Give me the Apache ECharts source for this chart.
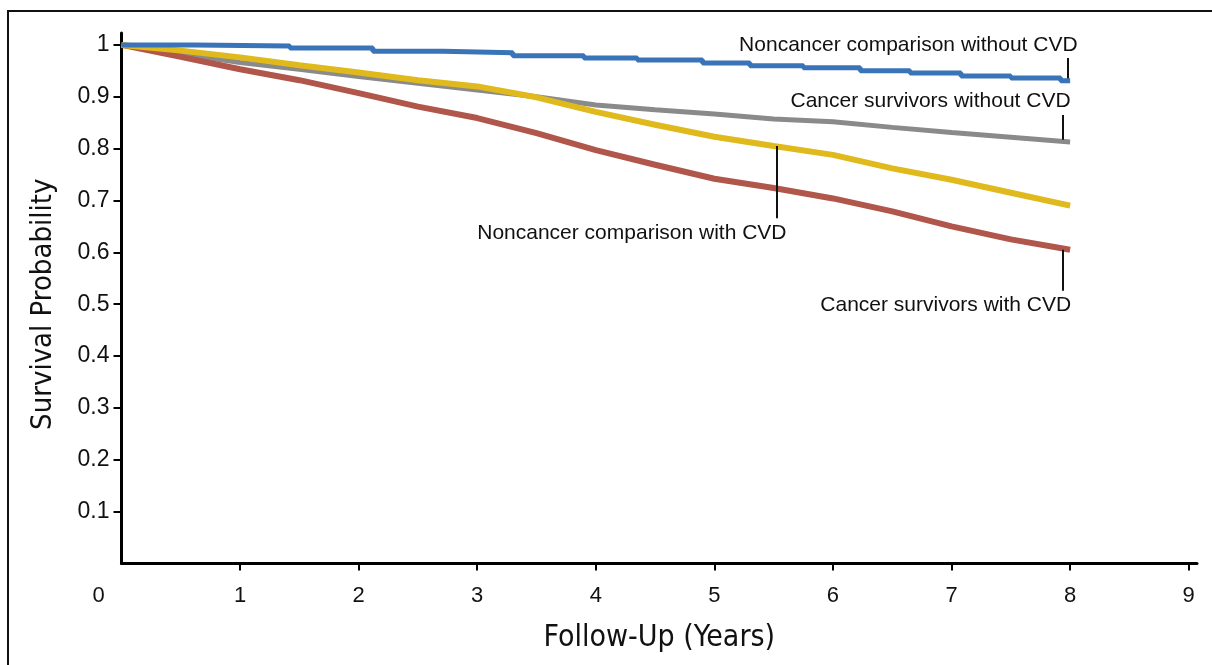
<!DOCTYPE html>
<html><head><meta charset="utf-8">
<script src="https://cdn.jsdelivr.net/npm/echarts@6/dist/echarts.min.js"></script>
<style>html,body{margin:0;padding:0;background:#fff}#c{width:1212px;height:665px}</style>
</head><body><div id="c"></div>
<script>
// ---- axis ticks / labels ----
const xTickValues = [1, 2, 3, 4, 5, 6, 7, 8, 9];
const xLabelValues = [0, 1, 2, 3, 4, 5, 6, 7, 8, 9];
const yTickValues = [0.1, 0.2, 0.3, 0.4, 0.5, 0.6, 0.7, 0.8, 0.9, 1];

// ---- series (Kaplan-Meier survival, years vs probability) ----
const blueName = 'Noncancer comparison without CVD';
const blueT = [0, 0.62, 1.42, 2.12, 2.71, 3.3, 3.9, 4.35, 4.9, 5.3, 5.75, 6.23, 6.65, 7.08, 7.5, 7.92, 8];
const blueS = [1.0, 0.998, 0.994, 0.988, 0.985, 0.979, 0.975, 0.971, 0.965, 0.960, 0.956, 0.950, 0.946, 0.940, 0.936, 0.931, 0.931];

const grayName = 'Cancer survivors without CVD';
const grayT = [0, 0.5, 1, 1.5, 2, 2.5, 3, 3.5, 4, 4.5, 5, 5.5, 6, 6.5, 7, 7.5, 8];
const grayS = [1.0, 0.983, 0.966, 0.953, 0.939, 0.926, 0.913, 0.900, 0.884, 0.875, 0.867, 0.857, 0.852, 0.841, 0.831, 0.822, 0.813];

const yellowName = 'Noncancer comparison with CVD';
const yellowT = [0, 0.5, 1, 1.5, 2, 2.5, 3, 3.5, 4, 4.5, 5, 5.5, 6, 6.5, 7, 7.5, 8];
const yellowS = [1.0, 0.989, 0.976, 0.961, 0.947, 0.932, 0.920, 0.899, 0.871, 0.846, 0.823, 0.805, 0.788, 0.762, 0.740, 0.715, 0.690];

const redName = 'Cancer survivors with CVD';
const redT = [0, 0.5, 1, 1.5, 2, 2.5, 3, 3.5, 4, 4.5, 5, 5.5, 6, 6.5, 7, 7.5, 8];
const redS = [1.0, 0.977, 0.953, 0.932, 0.907, 0.881, 0.859, 0.830, 0.797, 0.769, 0.742, 0.724, 0.704, 0.679, 0.650, 0.625, 0.605];

// ---- annotation labels and pointer segments (data coordinates) ----
const annText = [blueName, grayName, yellowName, redName];
const annX = [8.063, 8.004, 4.304, 8.009];
const annY = [1.0, 0.891, 0.636, 0.4986];
const annAlign = ['right', 'right', 'center', 'right'];
const pointerX = [7.98, 7.94, 5.53, 7.94];
const pointerY1 = [0.975, 0.865, 0.805, 0.605];
const pointerY2 = [0.932, 0.817, 0.666, 0.526];

const colors = { blue: '#3a74b8', gray: '#8a8a8a', yellow: '#e0b91c', red: '#b0564a' };
const textColor = '#111';
const tickFont = 'Liberation Sans, Arial, sans-serif';
const titleFont = '"Liberation Sans Narrow", "DejaVu Sans Condensed", "Roboto Condensed", sans-serif';

function pairs(t, s) { return t.map((x, i) => [x, s[i]]); }
function pointer(i) {
  return { symbol: 'none', silent: true, animation: false,
    lineStyle: { color: '#111', width: 2, type: 'solid' }, label: { show: false },
    data: [[{ coord: [pointerX[i], pointerY1[i]] }, { coord: [pointerX[i], pointerY2[i]] }]] };
}

const chart = echarts.init(document.getElementById('c'), null, { renderer: 'canvas' });
chart.setOption({
  animation: false,
  backgroundColor: '#fff',
  grid: { left: 121.5, right: 15, top: 33, bottom: 101.5 },
  xAxis: {
    type: 'value', min: 0, max: 9.07,
    name: 'Follow-Up (Years)', nameLocation: 'middle', nameGap: 60,
    nameTextStyle: { fontFamily: titleFont, fontSize: 30, color: textColor },
    axisLine: { show: true, lineStyle: { color: '#000', width: 3 } },
    axisTick: { show: true, customValues: xTickValues, length: 7, lineStyle: { color: '#000', width: 2 } },
    axisLabel: { customValues: xLabelValues, margin: 21, fontFamily: tickFont, fontSize: 22, color: textColor,
      formatter: v => v === 0 ? '{z|0}' : String(v),
      rich: { z: { fontFamily: tickFont, fontSize: 22, color: textColor, padding: [0, 46, 0, 0] } } },
    splitLine: { show: false }
  },
  yAxis: {
    type: 'value', min: 0, max: 1.023,
    name: 'Survival Probability', nameLocation: 'middle', nameGap: 64,
    nameTextStyle: { fontFamily: titleFont, fontSize: 29, color: textColor, padding: [0, 12, 0, 0] },
    axisLine: { show: true, lineStyle: { color: '#000', width: 3 } },
    axisTick: { show: true, customValues: yTickValues, length: 8, lineStyle: { color: '#000', width: 2 } },
    axisLabel: { customValues: yTickValues, margin: 12, fontFamily: tickFont, fontSize: 23, color: textColor,
      formatter: v => String(v) },
    splitLine: { show: false }
  },
  series: [
    { name: grayName, type: 'line', data: pairs(grayT, grayS), showSymbol: false, symbol: 'none',
      lineStyle: { color: colors.gray, width: 5 }, markLine: pointer(1), z: 2 },
    { name: redName, type: 'line', data: pairs(redT, redS), showSymbol: false, symbol: 'none',
      lineStyle: { color: colors.red, width: 6 }, markLine: pointer(3), z: 3 },
    { name: yellowName, type: 'line', data: pairs(yellowT, yellowS), showSymbol: false, symbol: 'none',
      lineStyle: { color: colors.yellow, width: 6 }, markLine: pointer(2), z: 4 },
    { name: blueName, type: 'line', step: 'end', data: pairs(blueT, blueS), showSymbol: false, symbol: 'none',
      lineStyle: { color: colors.blue, width: 5 }, markLine: pointer(0), z: 5 },
    { name: 'labels', type: 'scatter', symbolSize: 0, silent: true, z: 6,
      itemStyle: { color: textColor },
      data: annText.map((txt, i) => ({ value: [annX[i], annY[i]], name: txt,
        label: { show: true, position: [0, 0], align: annAlign[i], verticalAlign: 'middle',
          formatter: txt, fontFamily: tickFont, fontSize: 21, color: textColor,
          textBorderWidth: 0, opacity: 1 } })) }
  ],
  graphic: [{ type: 'rect', silent: true, z: 100,
    shape: { x: 8, y: 11, width: 1400, height: 800 },
    style: { fill: null, stroke: '#111', lineWidth: 2 } }]
});
</script></body></html>
